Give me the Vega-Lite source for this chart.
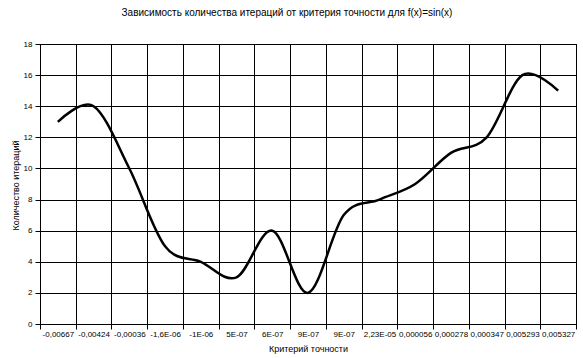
{
  "$schema": "https://vega.github.io/schema/vega-lite/v6.json",
  "width": 536,
  "height": 280,
  "autosize": {"type": "none"},
  "padding": {"left": 40, "top": 44, "right": 7, "bottom": 34},
  "background": "white",
  "title": {
    "text": "Зависимость количества итераций от критерия точности для f(x)=sin(x)",
    "font": "Liberation Sans",
    "fontSize": 10,
    "fontWeight": "normal",
    "color": "black",
    "anchor": "middle",
    "offset": 22,
    "dx": -21
  },
  "config": {
    "view": {"stroke": "black", "strokeWidth": 1},
    "axis": {
      "labelFont": "Liberation Sans",
      "labelFontSize": 8,
      "labelColor": "black",
      "titleFont": "Liberation Sans",
      "titleFontSize": 9,
      "titleFontWeight": "normal",
      "titleColor": "black",
      "domainColor": "black",
      "tickColor": "black",
      "gridColor": "black",
      "gridOpacity": 1,
      "gridWidth": 1
    }
  },
  "data": {
    "values": [
      {"i": 1, "label": "-0,00667", "n": 13},
      {"i": 2, "label": "-0,00424", "n": 14},
      {"i": 3, "label": "-0,00036", "n": 10},
      {"i": 4, "label": "-1,6E-06", "n": 5},
      {"i": 5, "label": "-1E-06", "n": 4},
      {"i": 6, "label": "5E-07", "n": 3},
      {"i": 7, "label": "6E-07", "n": 6},
      {"i": 8, "label": "9E-07", "n": 2},
      {"i": 9, "label": "9E-07", "n": 7},
      {"i": 10, "label": "2,23E-05", "n": 8},
      {"i": 11, "label": "0,000056", "n": 9},
      {"i": 12, "label": "0,000278", "n": 11},
      {"i": 13, "label": "0,000347", "n": 12},
      {"i": 14, "label": "0,005293", "n": 16},
      {"i": 15, "label": "0,005327", "n": 15}
    ]
  },
  "layer": [
    {
      "mark": {"type": "line", "interpolate": "cardinal", "tension": 0, "color": "black", "strokeWidth": 2.5},
      "encoding": {
        "x": {
          "field": "i",
          "type": "quantitative",
          "scale": {"domain": [0.5, 15.5], "nice": false, "zero": false},
          "axis": {
            "orient": "bottom",
            "values": [0.5, 1.5, 2.5, 3.5, 4.5, 5.5, 6.5, 7.5, 8.5, 9.5, 10.5, 11.5, 12.5, 13.5, 14.5, 15.5],
            "grid": true,
            "labels": false,
            "title": null,
            "tickSize": 5
          }
        },
        "y": {
          "field": "n",
          "type": "quantitative",
          "scale": {"domain": [0, 18], "nice": false},
          "axis": {
            "values": [0, 2, 4, 6, 8, 10, 12, 14, 16, 18],
            "grid": true,
            "tickSize": 5,
            "labelPadding": 3,
            "title": "Количество итераций",
            "titleAngle": 270,
            "titleX": -25,
            "titleY": 141,
            "titleAlign": "center",
            "titleBaseline": "middle"
          }
        }
      }
    },
    {
      "mark": {"type": "line", "strokeOpacity": 0},
      "encoding": {
        "x": {
          "field": "i",
          "type": "quantitative",
          "scale": {"domain": [0.5, 15.5], "nice": false, "zero": false},
          "axis": {
            "orient": "bottom",
            "values": [1, 2, 3, 4, 5, 6, 7, 8, 9, 10, 11, 12, 13, 14, 15],
            "labelExpr": "['-0,00667','-0,00424','-0,00036','-1,6E-06','-1E-06','5E-07','6E-07','9E-07','9E-07','2,23E-05','0,000056','0,000278','0,000347','0,005293','0,005327'][datum.value-1]",
            "grid": false,
            "ticks": false,
            "domain": false,
            "labelPadding": 6,
            "title": "Критерий точности",
            "titleX": 268,
            "titleY": 24,
            "titleAlign": "center",
            "titleBaseline": "middle"
          }
        }
      }
    }
  ],
  "resolve": {"axis": {"x": "independent"}}
}
